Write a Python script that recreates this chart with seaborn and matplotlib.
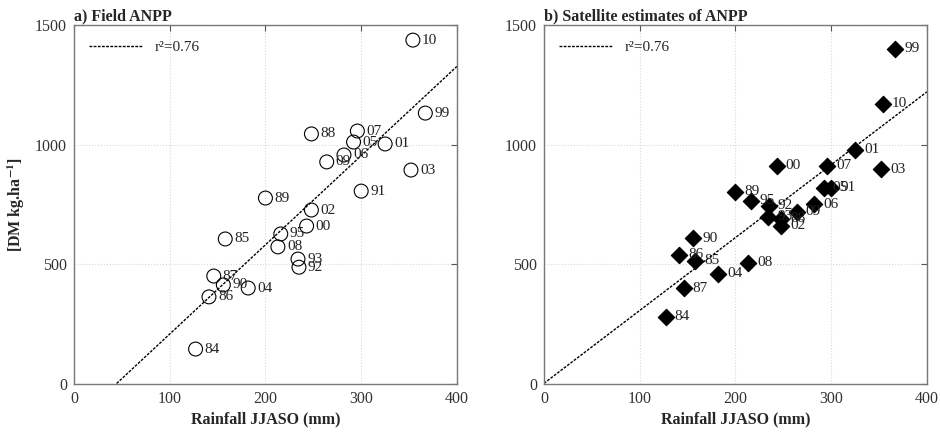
import numpy as np
import pandas as pd
import matplotlib
matplotlib.use("Agg")
import matplotlib.pyplot as plt
import seaborn as sns

# Years (labels) and JJASO rainfall (mm)
years = ["84", "85", "86", "87", "88", "89", "90", "91", "92", "93", "95", "99",
         "00", "01", "02", "03", "04", "05", "06", "07", "08", "09", "10"]
rain = [127, 158, 141, 146, 248, 200, 156, 300, 235, 234, 216, 367,
        243, 325, 248, 352, 182, 292, 282, 296, 213, 264, 354]

# a) field ANPP (DM kg/ha)
field_anpp = [146, 606, 364, 451, 1045, 777, 414, 806, 488, 522, 627, 1132,
              660, 1003, 727, 894, 401, 1011, 957, 1057, 573, 928, 1437]

# b) satellite estimates of ANPP
sat_anpp = [280, 514, 539, 401, 690, 803, 610, 820, 744, 698, 765, 1400,
            911, 978, 662, 898, 460, 820, 752, 911, 506, 719, 1170]

df = pd.DataFrame({"year": years, "rain": rain, "field": field_anpp, "sat": sat_anpp})

sns.set_style("white")
plt.rcParams["font.family"] = ["Liberation Serif", "DejaVu Serif"]
plt.rcParams["mathtext.fontset"] = "stix"

fig = plt.figure(figsize=(9.4, 4.33), dpi=100)
ax1 = fig.add_axes([0.0787, 0.1132, 0.4074, 0.829])
ax2 = fig.add_axes([0.5787, 0.1132, 0.4074, 0.829])

panels = [
    (ax1, "field", "a) Field ANPP", "o", "none", 100),
    (ax2, "sat", "b) Satellite estimates of ANPP", "D", "black", 70),
]

for ax, col, title, marker, face, size in panels:
    # fitted line
    slope, icpt = np.polyfit(df["rain"], df[col], 1)
    xs = np.linspace(0, 400, 200)
    ax.plot(xs, slope * xs + icpt, color="black", linestyle=(0, (2, 1)), linewidth=1.0,
            label="r²=0.76", zorder=2)

    sns.scatterplot(data=df, x="rain", y=col, ax=ax, marker=marker, s=size,
                    facecolor=face, edgecolor="black", linewidth=0.8, zorder=3, legend=False)
    for _, r in df.iterrows():
        ax.annotate(r["year"], (r["rain"], r[col]), xytext=(6.5, 0), textcoords="offset points",
                    fontsize=11, va="center", ha="left", color="#222222", zorder=4)

    ax.set_xlim(0, 400)
    ax.set_ylim(0, 1500)
    ax.set_xticks([0, 100, 200, 300, 400])
    ax.set_yticks([0, 500, 1000, 1500])
    ax.grid(True, color="#d8d8d8", linestyle=":", linewidth=0.8)
    ax.tick_params(direction="in", length=4, labelsize=11.5, color="#555555", labelcolor="#333333",
                   top=True, right=True, pad=5)
    for sp in ax.spines.values():
        sp.set_color("#777777")
        sp.set_linewidth(1.0)
    ax.set_xlabel("Rainfall JJASO (mm)", fontsize=11.5, fontweight="bold", labelpad=3)
    ax.set_ylabel("")
    ax.set_title(title, loc="left", fontsize=11.5, fontweight="bold", pad=3)
    ax.legend(loc="upper left", frameon=False, fontsize=11, handlelength=3.5, borderaxespad=0.6)

ax1.set_ylabel(r"[DM kg.ha$^{\mathbf{-1}}$]", fontsize=11.5, fontweight="bold", labelpad=6)

fig.savefig("out.png", dpi=100)
